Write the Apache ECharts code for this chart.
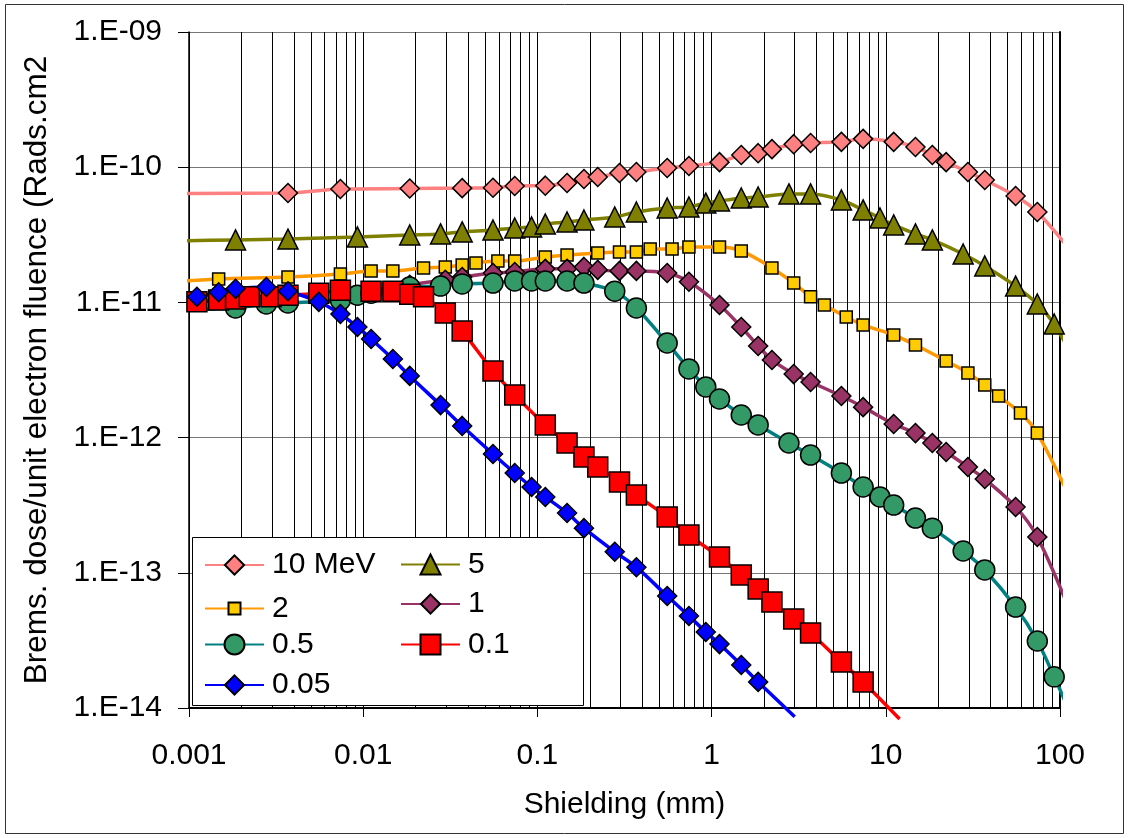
<!DOCTYPE html>
<html>
<head>
<meta charset="utf-8">
<title>Brems dose vs shielding</title>
<script src="https://cdn.jsdelivr.net/npm/echarts@6/dist/echarts.min.js"></script>
<style>
  html, body { margin: 0; padding: 0; background: #fff; }
  #chart { width: 1129px; height: 838px; }
</style>
</head>
<body>
<div id="chart"></div>
<script>
const FONT = "'Liberation Sans', Arial, sans-serif";

// shielding (mm) / dose per series
const x10 = [0.00086, 0.0037, 0.0074, 0.0185, 0.037, 0.0556, 0.0741, 0.111, 0.148, 0.185, 0.222, 0.296, 0.37, 0.556, 0.741, 1.11, 1.48, 1.85, 2.22, 2.96, 3.7, 5.56, 7.41, 11.1, 14.8, 18.5, 22.2, 29.6, 37, 55.6, 74.1, 118];
const y10 = [6.4e-11, 6.44e-11, 6.9e-11, 6.95e-11, 7.0e-11, 7.05e-11, 7.26e-11, 7.3e-11, 7.64e-11, 8.18e-11, 8.46e-11, 9.06e-11, 9.22e-11, 9.86e-11, 1.02e-10, 1.09e-10, 1.23e-10, 1.27e-10, 1.36e-10, 1.48e-10, 1.51e-10, 1.54e-10, 1.62e-10, 1.54e-10, 1.41e-10, 1.23e-10, 1.09e-10, 9.22e-11, 8.04e-11, 6.12e-11, 4.66e-11, 2.32e-11];

const x5 = [0.00086, 0.00185, 0.0037, 0.00926, 0.0185, 0.0278, 0.037, 0.0556, 0.0741, 0.0926, 0.111, 0.148, 0.185, 0.278, 0.37, 0.556, 0.741, 0.926, 1.11, 1.48, 1.85, 2.78, 3.7, 5.56, 7.41, 9.26, 11.1, 14.8, 18.5, 27.8, 37, 55.6, 74.1, 92.6, 118];
const y5 = [2.85e-11, 2.9e-11, 2.94e-11, 3.05e-11, 3.15e-11, 3.21e-11, 3.32e-11, 3.43e-11, 3.55e-11, 3.61e-11, 3.8e-11, 3.93e-11, 4.07e-11, 4.28e-11, 4.66e-11, 4.99e-11, 5.08e-11, 5.43e-11, 5.62e-11, 5.92e-11, 6.02e-11, 6.34e-11, 6.34e-11, 5.72e-11, 4.83e-11, 4.21e-11, 3.74e-11, 3.21e-11, 2.9e-11, 2.28e-11, 1.86e-11, 1.32e-11, 9.73e-12, 6.92e-12, 3.95e-12];

const x2 = [0.00086, 0.00148, 0.0037, 0.0074, 0.0111, 0.0148, 0.0222, 0.0296, 0.037, 0.0444, 0.0593, 0.0741, 0.111, 0.148, 0.222, 0.296, 0.37, 0.444, 0.593, 0.741, 1.11, 1.48, 2.22, 2.96, 3.7, 4.44, 5.93, 7.41, 11.1, 14.8, 22.2, 29.6, 37, 44.4, 59.3, 74.1, 118];
const y2 = [1.43e-11, 1.49e-11, 1.54e-11, 1.62e-11, 1.71e-11, 1.71e-11, 1.8e-11, 1.83e-11, 1.89e-11, 1.96e-11, 2.02e-11, 2.02e-11, 2.17e-11, 2.24e-11, 2.32e-11, 2.36e-11, 2.36e-11, 2.48e-11, 2.48e-11, 2.57e-11, 2.57e-11, 2.4e-11, 1.8e-11, 1.39e-11, 1.1e-11, 9.57e-12, 7.8e-12, 6.81e-12, 5.74e-12, 4.84e-12, 3.69e-12, 3.01e-12, 2.45e-12, 2.03e-12, 1.52e-12, 1.08e-12, 3.28e-13];

const x1 = [0.0111, 0.0185, 0.0296, 0.037, 0.0556, 0.0741, 0.111, 0.148, 0.185, 0.222, 0.296, 0.37, 0.556, 0.741, 1.11, 1.48, 1.85, 2.22, 2.96, 3.7, 5.56, 7.41, 11.1, 14.8, 18.5, 22.2, 29.6, 37, 55.6, 74.1, 118];
const y1 = [1.22e-11, 1.35e-11, 1.47e-11, 1.54e-11, 1.65e-11, 1.68e-11, 1.77e-11, 1.77e-11, 1.83e-11, 1.74e-11, 1.71e-11, 1.71e-11, 1.65e-11, 1.42e-11, 9.57e-12, 6.58e-12, 4.76e-12, 3.75e-12, 2.95e-12, 2.58e-12, 2.03e-12, 1.68e-12, 1.26e-12, 1.08e-12, 9.12e-13, 7.82e-13, 6.06e-13, 4.94e-13, 3.07e-13, 1.84e-13, 4.71e-14];

const x05 = [0.00086, 0.00185, 0.00278, 0.0037, 0.0074, 0.00926, 0.0111, 0.0185, 0.0278, 0.037, 0.0556, 0.0741, 0.0926, 0.111, 0.148, 0.185, 0.278, 0.37, 0.556, 0.741, 0.926, 1.11, 1.48, 1.85, 2.78, 3.7, 5.56, 7.41, 9.26, 11.1, 14.8, 18.5, 27.8, 37, 55.6, 74.1, 92.6, 118];
const y05 = [8.8e-12, 9.09e-12, 9.73e-12, 9.9e-12, 1.04e-11, 1.13e-11, 1.17e-11, 1.3e-11, 1.32e-11, 1.37e-11, 1.39e-11, 1.44e-11, 1.44e-11, 1.44e-11, 1.44e-11, 1.39e-11, 1.21e-11, 9.09e-12, 5.01e-12, 3.22e-12, 2.37e-12, 1.93e-12, 1.47e-12, 1.24e-12, 9.12e-13, 7.43e-13, 5.47e-13, 4.31e-13, 3.64e-13, 3.17e-13, 2.54e-13, 2.14e-13, 1.45e-13, 1.05e-13, 5.58e-14, 3.13e-14, 1.7e-14, 8.43e-15];

const x01 = [0.00086, 0.00111, 0.00148, 0.00185, 0.00222, 0.00296, 0.0037, 0.00556, 0.0074, 0.0111, 0.0148, 0.0185, 0.0222, 0.0296, 0.037, 0.0556, 0.0741, 0.111, 0.148, 0.185, 0.222, 0.296, 0.37, 0.556, 0.741, 1.11, 1.48, 1.85, 2.22, 2.96, 3.7, 5.56, 7.41, 12];
const y01 = [9.8e-12, 1.01e-11, 1.04e-11, 1.06e-11, 1.1e-11, 1.1e-11, 1.13e-11, 1.17e-11, 1.23e-11, 1.21e-11, 1.21e-11, 1.15e-11, 1.1e-11, 8.35e-12, 6.14e-12, 3.11e-12, 2.07e-12, 1.24e-12, 9.12e-13, 7.19e-13, 6.06e-13, 4.7e-13, 3.76e-13, 2.59e-13, 1.9e-13, 1.31e-13, 9.64e-14, 7.59e-14, 6.08e-14, 4.55e-14, 3.59e-14, 2.19e-14, 1.56e-14, 8.3e-15];

const x005 = [0.00086, 0.00111, 0.00148, 0.00185, 0.00278, 0.0037, 0.00556, 0.0074, 0.00926, 0.0111, 0.0148, 0.0185, 0.0278, 0.037, 0.0556, 0.0741, 0.0926, 0.111, 0.148, 0.185, 0.278, 0.37, 0.556, 0.741, 0.926, 1.11, 1.48, 1.85, 3.0];
const y005 = [1.03e-11, 1.1e-11, 1.19e-11, 1.26e-11, 1.3e-11, 1.21e-11, 1.01e-11, 8.21e-12, 6.58e-12, 5.36e-12, 3.81e-12, 2.86e-12, 1.74e-12, 1.22e-12, 7.57e-13, 5.47e-13, 4.31e-13, 3.64e-13, 2.77e-13, 2.14e-13, 1.43e-13, 1.1e-13, 6.73e-14, 4.79e-14, 3.65e-14, 2.97e-14, 2.08e-14, 1.56e-14, 8.6e-15];

const xTicks = [0.001, 0.01, 0.1, 1, 10, 100];
const yTicks = [1e-14, 1e-13, 1e-12, 1e-11, 1e-10, 1e-9];

// first and last points only carry the smoothed line, no marker
const makeSeries = (name, xs, ys, symbol, size, lineColor, fill) => ({
  name: name,
  type: "line",
  smooth: 0.3,
  clip: false,
  symbol: symbol,
  symbolSize: size,
  showAllSymbol: true,
  lineStyle: { color: lineColor, width: 3.5 },
  itemStyle: { color: fill, borderColor: "#000", borderWidth: 1.5 },
  emphasis: { disabled: true },
  data: xs.map((x, i) => {
    const item = { value: [x, ys[i]] };
    if (i === 0 || i === xs.length - 1) item.symbol = "none";
    return item;
  }),
});

const legendItem = (name, left, rowY, h) => ({
  data: [name],
  orient: "vertical",
  left: left,
  top: rowY - h / 2,
  padding: 0,
  itemWidth: 59,
  itemHeight: h,
  selectedMode: false,
  textStyle: { fontSize: 30, color: "#000", fontFamily: FONT, padding: [0, 0, 0, 3] },
});

const yLabel = (v) => {
  const e = Math.round(Math.log10(v));
  return "1.E-" + String(-e).padStart(2, "0");
};
const xLabel = (v) => {
  const e = Math.round(Math.log10(v));
  return e < 0 ? Math.pow(10, e).toFixed(-e) : String(Math.pow(10, e));
};

const chart = echarts.init(document.getElementById("chart"), null, { renderer: "canvas" });

const option = {
  animation: false,
  backgroundColor: "#fff",
  grid: { left: 189, right: 69, top: 32, bottom: 130, containLabel: false },
  xAxis: {
    type: "log",
    logBase: 10,
    min: xTicks[0],
    max: xTicks[xTicks.length - 1],
    splitNumber: 5,
    name: "Shielding (mm)",
    nameLocation: "middle",
    nameGap: 82,
    nameTextStyle: { fontSize: 30, color: "#000", fontFamily: FONT },
    axisLine: { lineStyle: { color: "#000", width: 2 } },
    axisTick: { show: true, length: 9, lineStyle: { color: "#000", width: 1 } },
    axisLabel: { fontSize: 30, color: "#000", fontFamily: FONT, margin: 33, formatter: xLabel },
    splitLine: { show: true, lineStyle: { color: "#000", width: 1 } },
    minorTick: { show: false, splitNumber: 9 },
    minorSplitLine: { show: true, lineStyle: { color: "#000", width: 1 } },
  },
  yAxis: [
    {
      type: "log",
      logBase: 10,
      min: yTicks[0],
      max: yTicks[yTicks.length - 1],
      splitNumber: 5,
      name: "Brems. dose/unit electron fluence (Rads.cm2",
      nameLocation: "middle",
      nameGap: 136,
      nameTextStyle: { fontSize: 31.5, color: "#000", fontFamily: FONT },
      axisLine: { show: true, lineStyle: { color: "#000", width: 1.5 } },
      axisTick: { show: true, length: 11, lineStyle: { color: "#000", width: 1 } },
      axisLabel: { fontSize: 30, color: "#000", fontFamily: FONT, margin: 27, formatter: yLabel },
      splitLine: { show: true, lineStyle: { color: "#777", width: 1 } },
    },
    {
      type: "log",
      logBase: 10,
      min: yTicks[0],
      max: yTicks[yTicks.length - 1],
      position: "right",
      axisLine: { show: true, lineStyle: { color: "#000", width: 2 } },
      axisTick: { show: false },
      axisLabel: { show: false },
      splitLine: { show: false },
    },
  ],
  legend: [
    legendItem("10 MeV", 204, 562, 24),
    legendItem("2", 204, 601, 15),
    legendItem("0.5", 204, 642, 25),
    legendItem("0.05", 204, 682, 24),
    legendItem("5", 400, 562, 25),
    legendItem("1", 400, 601, 24),
    legendItem("0.1", 400, 642, 25),
  ],
  graphic: [
    {
      type: "rect",
      z: 1,
      silent: true,
      shape: { x: 192.5, y: 537.5, width: 391, height: 168 },
      style: { fill: "#fff", stroke: "#000", lineWidth: 1 },
    },
    {
      type: "rect",
      z: 1,
      silent: true,
      shape: { x: 5.5, y: 4.5, width: 1118, height: 829 },
      style: { fill: "none", stroke: "#333", lineWidth: 1 },
    },
  ],
  series: [
    makeSeries("10 MeV", x10, y10, "diamond", 19, "#FF8080", "#FF8080"),
    makeSeries("5", x5, y5, "triangle", 20, "#808000", "#808000"),
    makeSeries("2", x2, y2, "rect", 12, "#FF9900", "#FFCC00"),
    makeSeries("1", x1, y1, "diamond", 19, "#993366", "#993366"),
    makeSeries("0.5", x05, y05, "circle", 20, "#008080", "#339966"),
    makeSeries("0.1", x01, y01, "rect", 20, "#FF0000", "#FF0000"),
    makeSeries("0.05", x005, y005, "diamond", 19, "#0000FF", "#0000FF"),
  ],
};

chart.setOption(option);
</script>
</body>
</html>
